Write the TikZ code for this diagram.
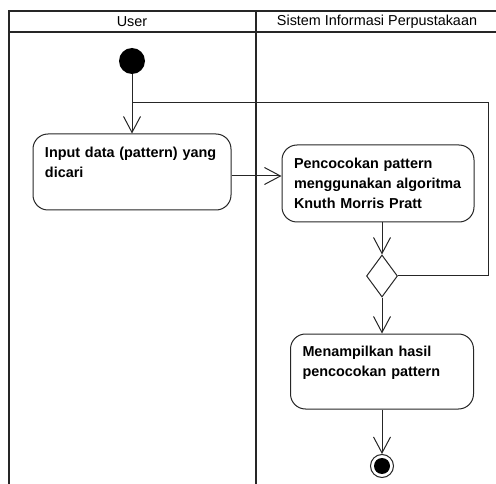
\documentclass[tikz,border=0pt]{standalone}
\usepackage{fontspec}
\setmainfont{Liberation Sans}
\usetikzlibrary{shapes.geometric, arrows.meta, positioning}

\begin{document}
\begin{tikzpicture}[x=1pt, y=-1pt, every node/.style={font=\fontsize{14.4}{20}\selectfont}]

\tikzstyle{lane} = [line width=1.6pt, draw=black!85]
\tikzstyle{initial} = [circle, fill=black, minimum size=26pt, inner sep=0pt]
\tikzstyle{final} = [circle, draw=black!85, line width=1pt, minimum size=23pt, inner sep=0pt]
\tikzstyle{activity} = [rectangle, rounded corners=15pt, draw=black!85, line width=1pt, inner xsep=12pt, inner ysep=0pt, align=left, font=\fontsize{14.4}{20}\selectfont\bfseries]
\tikzstyle{decision} = [diamond, draw=black!85, line width=1pt, minimum width=31pt, minimum height=42pt, inner sep=0pt]
\tikzstyle{arrow} = [line width=1pt, draw=black!85, -{Straight Barb[length=16pt, width=17pt]}]
\tikzstyle{line} = [line width=1pt, draw=black!85]

\useasboundingbox (0,0) rectangle (496,484);

% Swimlanes
\draw [lane] (496,11) -- (9,11) -- (9,484);
\draw [lane] (9,32) -- (496,32);
\draw [lane] (256,11) -- (256,484);
\node (user) at (132,22) {User};
\node (sistem) at (377,22) {Sistem Informasi Perpustakaan};

% Nodes
\node (start) [initial] at (132,61) {};
\node (input) [activity, minimum width=198pt, minimum height=76pt, text width=174pt] at (132,172) {Input data (pattern) yang\\ dicari\\ \mbox{}};
\node (match) [activity, minimum width=192pt, minimum height=77pt, text width=168pt] at (378,183.5) {Pencocokan pattern\\ menggunakan algoritma\\ Knuth Morris Pratt};
\node (check) [decision] at (382,276) {};
\node (show) [activity, minimum width=183pt, minimum height=75pt, text width=159pt, below=36pt of check] {Menampilkan hasil\\ pencocokan pattern\\ \mbox{}};
\node (end) [final, below=44.5pt of show] {};
\fill [black] (end) circle (8pt);
\coordinate (join) at (start |- 0,103);

% Arrows
\draw [arrow] (start) -- (input);
\draw [arrow] ([yshift=-4pt]input.east) -- ([yshift=-4pt]input.east -| match.west);
\draw [arrow] (match.south -| check) -- (check);
\draw [arrow] (check) -- (check |- show.north);
\draw [arrow] (show) -- (end);
\draw [line] (check.east) -- ++(90.5,0) |- (join);

\end{tikzpicture}
\end{document}
